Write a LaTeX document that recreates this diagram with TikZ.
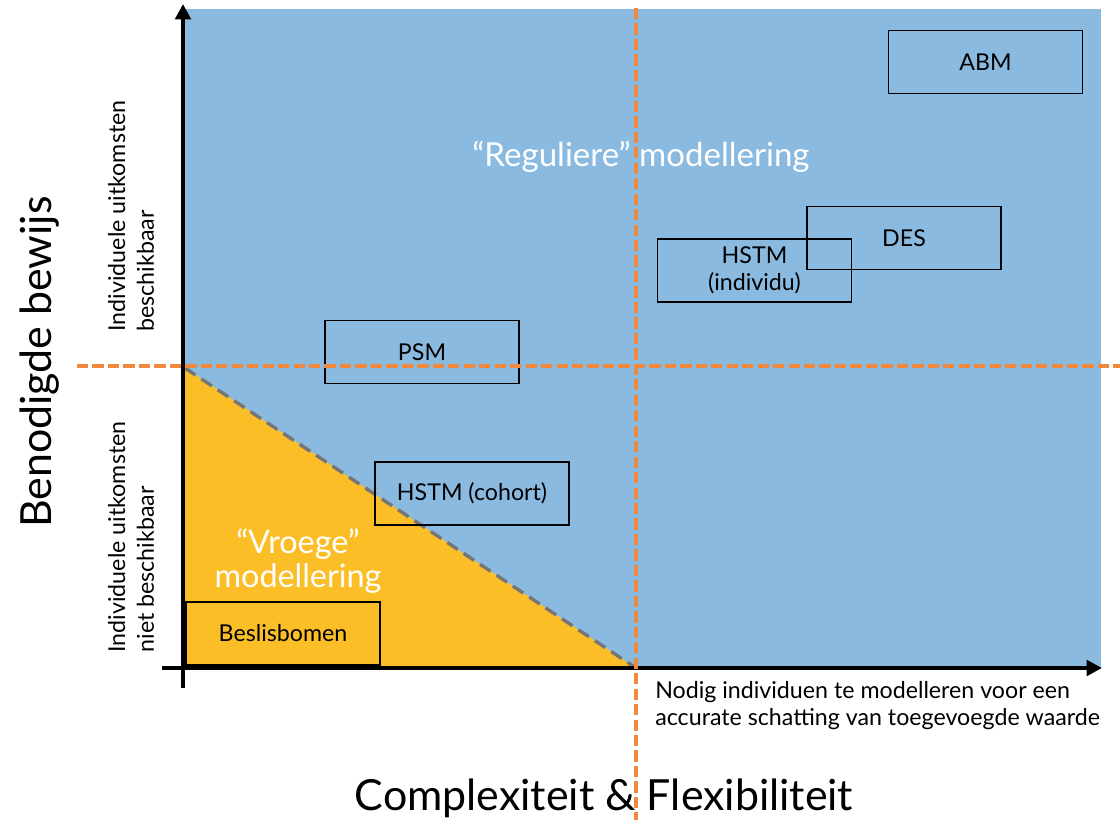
\documentclass[tikz,border=0pt]{standalone}
\usepackage{fontspec}
\setmainfont{Lato}
\usetikzlibrary{arrows.meta}
\definecolor{regblue}{RGB}{139,186,224}
\definecolor{vroegyellow}{RGB}{251,190,38}
\definecolor{splitorange}{RGB}{240,136,62}
\definecolor{edgegray}{RGB}{118,118,118}
\begin{document}
\begin{tikzpicture}[x=0.025cm,y=-0.025cm,
        modelbox/.style={draw=black, line width=1.1pt, minimum width=4.85cm, minimum height=1.58cm, font=\fontsize{16.5}{19.5}\selectfont},
        splitline/.style={splitorange, line width=2.5pt, dash pattern=on 8pt off 3pt},
        axisline/.style={line width=2.8pt, -{Triangle[length=11pt,width=11pt]}},
        sidelabel/.style={rotate=90, align=left, font=\fontsize{16.5}{20.5}\selectfont}]
        \useasboundingbox (0,0) rectangle (1120,820);
        % regions
        \coordinate (origin) at (183,668);
        \coordinate (split) at (636,668);
        \coordinate (mid) at (183,366);
        \fill[regblue] (185,9) rectangle (1101,668);
        \fill[vroegyellow] (185,368) -- (185,668) -- (split) -- cycle;
        \draw[edgegray, line width=2.4pt, dash pattern=on 9pt off 5pt] (185,368) -- (split);
        \node[white, font=\fontsize{23.5}{27}\selectfont] (reg) at (641,157) {``Reguliere'' modellering};
        \node[white, align=center, font=\fontsize{23}{24.5}\selectfont] (vroeg) at (298,561) {``Vroege''\\modellering};
        % models
        \node[modelbox] (abm) at (985.5,62) {ABM};
        \node[modelbox] (des) at (904,238) {DES};
        \node[modelbox, align=center] (hstmind) at (754.5,270.5) {HSTM\\(individu)};
        \node[modelbox] (psm) at (422,352) {PSM};
        \node[modelbox] (hstmcoh) at (472,493.5) {HSTM (cohort)};
        \node[modelbox] (besl) at (283,633.5) {Beslisbomen};
        % axes
        \draw[axisline] (183,688) -- (183,4);
        \draw[axisline] (162,668) -- (1102,668);
        \draw[splitline] (77,366) -- (1120,366);
        \draw[splitline] (636,8) -- (636,820);
        % labels
        \node[anchor=north west, inner sep=0pt, align=left, font=\fontsize{16.5}{19.3}\selectfont] (xnote) at (655,681) {Nodig individuen te modelleren voor een\\accurate schatting van toegevoegde waarde};
        \node[font=\fontsize{30.5}{35}\selectfont] (xlabel) at (604,798) {Complexiteit \& Flexibiliteit};
        \node[rotate=90, font=\fontsize{30.5}{35}\selectfont] (ylabel) at (40,362) {Benodigde bewijs};
        \node[sidelabel, anchor=south] (ytop) at (159,216) {Individuele uitkomsten\\beschikbaar};
        \node[sidelabel, anchor=south] (ybot) at (159,537) {Individuele uitkomsten\\niet beschikbaar};
\end{tikzpicture}
\end{document}
